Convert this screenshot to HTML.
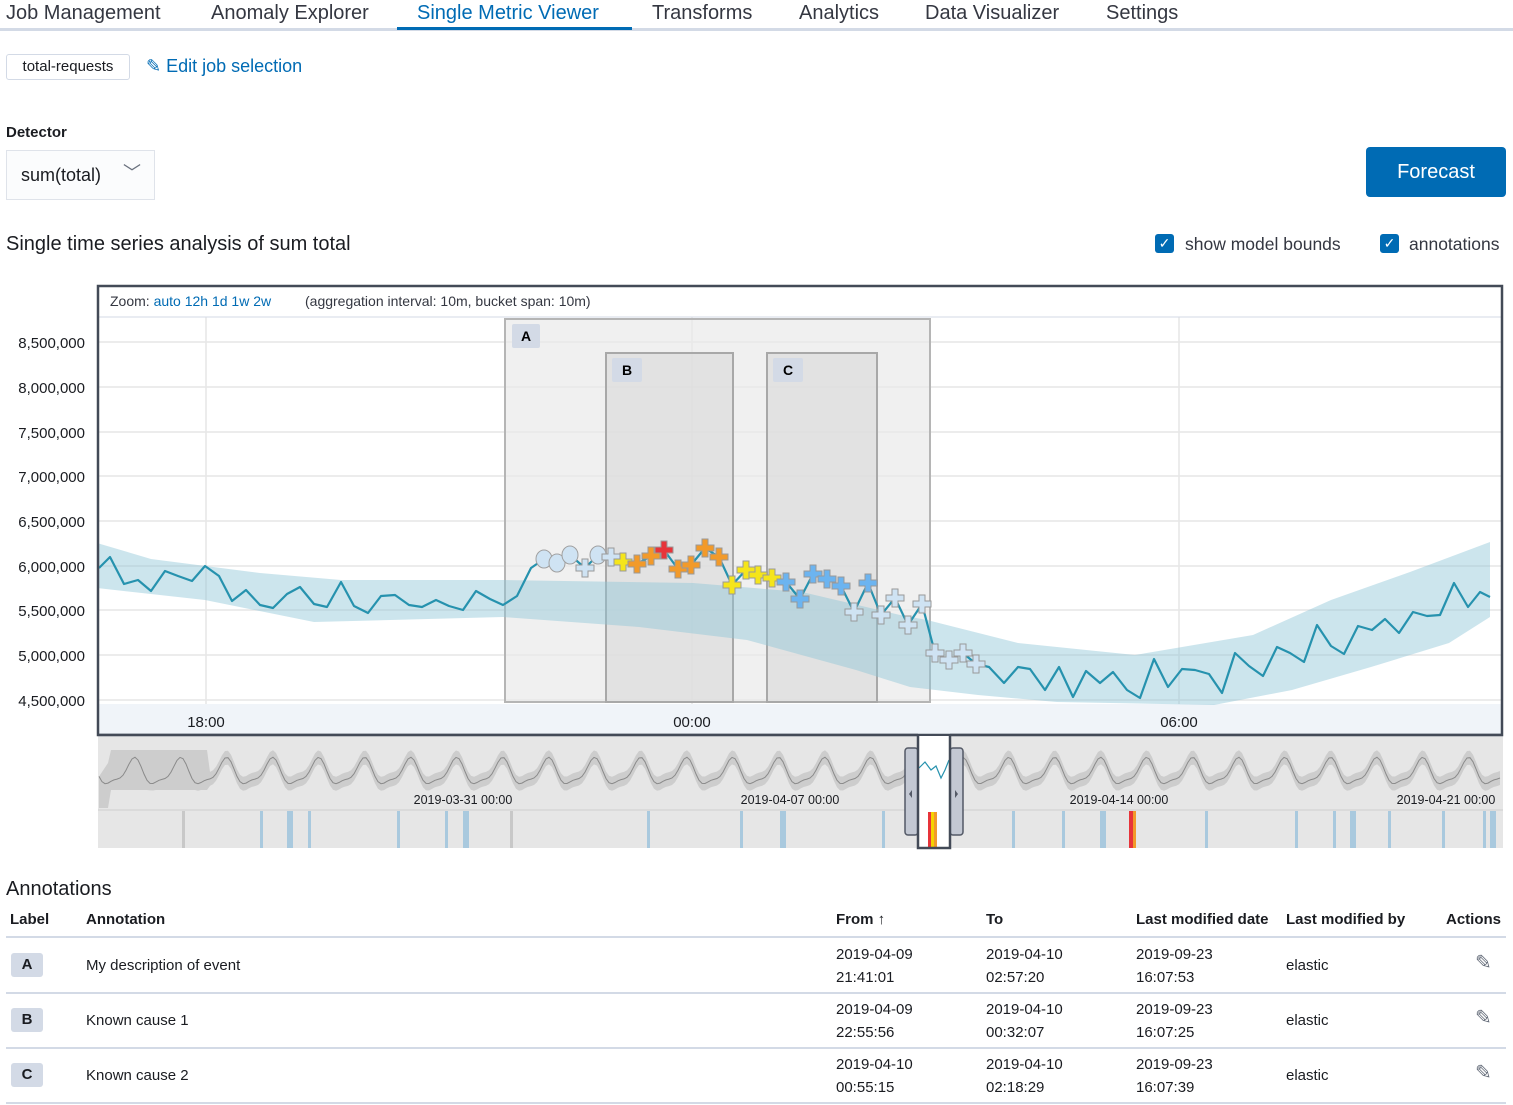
<!DOCTYPE html>
<html><head><meta charset="utf-8"><style>
body{margin:0;width:1513px;height:1105px;position:relative;font-family:"Liberation Sans",sans-serif;color:#1a1c21;background:#fff;overflow:hidden}
.a{position:absolute;white-space:nowrap}
.tab{top:2px;font-size:20px;color:#343741}
.th{top:911px;font-size:15px;font-weight:bold}
.td{font-size:15px;line-height:23px}
.lab{position:absolute;left:11px;width:32px;height:24px;background:#d3dae6;border-radius:3px;text-align:center;line-height:24px;font-weight:bold;font-size:15px}
.hl{position:absolute;left:6px;width:1500px;height:2px;background:#d3dae6}
</style></head><body>
<div class="a tab" style="left:6px">Job Management</div>
<div class="a tab" style="left:211px">Anomaly Explorer</div>
<div class="a tab" style="left:417px;color:#006bb4">Single Metric Viewer</div>
<div class="a tab" style="left:652px">Transforms</div>
<div class="a tab" style="left:799px">Analytics</div>
<div class="a tab" style="left:925px">Data Visualizer</div>
<div class="a tab" style="left:1106px">Settings</div>
<div class="a" style="left:0;top:28px;width:1513px;height:3px;background:#d3dae6"></div>
<div class="a" style="left:397px;top:27px;width:235px;height:3px;background:#006bb4"></div>

<div class="a" style="left:6px;top:54px;width:122px;height:24px;border:1px solid #d3dae6;border-radius:3px;font-size:15px;line-height:24px;text-align:center">total-requests</div>
<div class="a" style="left:146px;top:56px;font-size:18px;color:#006bb4">✎ Edit job selection</div>
<div class="a" style="left:6px;top:124px;font-size:15px;font-weight:bold">Detector</div>
<div class="a" style="left:6px;top:150px;width:147px;height:48px;background:#fbfcfd;border:1px solid #dfe3ea;font-size:18px;line-height:48px"><span style="margin-left:14px">sum(total)</span><span style="position:absolute;left:116px;top:-2px;color:#69707d">﹀</span></div>
<div class="a" style="left:1366px;top:147px;width:140px;height:50px;background:#006bb4;border-radius:4px;color:#fff;font-size:20px;line-height:50px;text-align:center">Forecast</div>
<div class="a" style="left:6px;top:233px;font-size:20px">Single time series analysis of sum total</div>
<div class="a" style="left:1155px;top:234px;width:19px;height:19px;background:#006bb4;border-radius:3px;color:#fff;font-size:14px;text-align:center;line-height:19px">✓</div>
<div class="a" style="left:1185px;top:234px;font-size:17.5px;color:#343741">show model bounds</div>
<div class="a" style="left:1380px;top:234px;width:19px;height:19px;background:#006bb4;border-radius:3px;color:#fff;font-size:14px;text-align:center;line-height:19px">✓</div>
<div class="a" style="left:1409px;top:234px;font-size:17.5px;color:#343741">annotations</div>

<svg class="a" style="left:0;top:0" width="1513" height="860">
<g font-family="Liberation Sans" font-size="15" fill="#1a1c21" text-anchor="end">
<text x="85" y="348">8,500,000</text><text x="85" y="393">8,000,000</text><text x="85" y="438">7,500,000</text><text x="85" y="482">7,000,000</text><text x="85" y="527">6,500,000</text><text x="85" y="572">6,000,000</text><text x="85" y="616">5,500,000</text><text x="85" y="661">5,000,000</text><text x="85" y="706">4,500,000</text>
</g>
<rect x="98" y="704" width="1404" height="31" fill="#f0f4f9"/>
<g stroke="#e6e6e6" stroke-width="1.5">
<line x1="99" x2="1502" y1="342" y2="342"/><line x1="99" x2="1502" y1="387" y2="387"/><line x1="99" x2="1502" y1="432" y2="432"/><line x1="99" x2="1502" y1="476" y2="476"/><line x1="99" x2="1502" y1="521" y2="521"/><line x1="99" x2="1502" y1="566" y2="566"/><line x1="99" x2="1502" y1="610" y2="610"/><line x1="99" x2="1502" y1="655" y2="655"/><line x1="99" x2="1502" y1="700" y2="700"/>
<line x1="206" x2="206" y1="317" y2="704"/><line x1="692" x2="692" y1="317" y2="704"/><line x1="1179" x2="1179" y1="317" y2="704"/>
</g>
<line x1="99" x2="1502" y1="317" y2="317" stroke="#d3dae6"/>
<text x="110" y="306" font-family="Liberation Sans" font-size="14" fill="#343741">Zoom: <tspan fill="#006bb4">auto 12h 1d 1w 2w</tspan><tspan x="305">(aggregation interval: 10m, bucket span: 10m)</tspan></text>
<g font-family="Liberation Sans" font-size="15" fill="#1a1c21" text-anchor="middle"><text x="206" y="727">18:00</text><text x="692" y="727">00:00</text><text x="1179" y="727">06:00</text></g>
<rect x="505" y="319" width="425" height="383" fill="#e9e9e9" fill-opacity="0.7" stroke="#b5b5b5" stroke-width="2"/>
<rect x="606" y="353" width="127" height="349" fill="#d9d9d9" fill-opacity="0.6" stroke="#a8a8a8" stroke-width="2"/>
<rect x="767" y="353" width="110" height="349" fill="#d9d9d9" fill-opacity="0.6" stroke="#a8a8a8" stroke-width="2"/>
<g font-family="Liberation Sans" font-size="14" font-weight="bold" text-anchor="middle"><rect x="512" y="324" width="28" height="24" fill="#d3dae6" rx="2"/><text x="526" y="341">A</text>
<rect x="612" y="358" width="30" height="24" fill="#d3dae6" rx="2"/><text x="627" y="375">B</text>
<rect x="773" y="358" width="30" height="24" fill="#d3dae6" rx="2"/><text x="788" y="375">C</text></g>
<path fill="#8ec6d6" fill-opacity="0.45" d="M97,543 L151,559 L260,573 L341,580 L503,580 L693,583 L802,592 L900,615 L927,620 L1018,643 L1135,655 L1253,635 L1331,600 L1410,572 L1490,542 L1490,617 L1449,643 L1371,667 L1292,690 L1214,705 L1057,702 L978,695 L910,687 L856,670 L747,640 L639,627 L503,617 L314,622 L205,600 L97,588 Z"/>
<polyline fill="none" stroke="#2692ae" stroke-width="2.2" stroke-linejoin="round" points="99,568 110,557 124,584 138,580 151,591 165,571 178,576 192,581 205,566 219,576 232,601 246,590 260,605 273,608 287,594 300,587 314,604 327,607 341,582 354,606 368,613 381,596 395,595 409,605 422,607 436,600 449,606 463,610 476,591 490,599 503,605 517,596 531,568 544,559 557,563 570,555 585,568 598,555 611,557 623,562 637,564 651,556 664,550 678,569 691,565 705,548 719,557 732,585 746,570 758,575 772,578 786,582 800,599 813,574 827,579 841,586 854,612 868,583 881,615 895,598 908,625 922,604 935,653 949,660 963,653 976,664 989,667 1004,683 1018,667 1030,669 1045,690 1059,667 1073,697 1086,671 1100,683 1113,672 1127,690 1140,698 1154,659 1168,687 1182,669 1195,670 1209,674 1222,693 1235,653 1249,666 1263,676 1277,647 1290,653 1304,662 1317,625 1331,646 1344,654 1358,626 1372,630 1385,619 1399,633 1413,612 1427,616 1440,615 1454,583 1468,607 1480,592 1490,597"/>
<g fill="#cfe3f3" stroke="#a0a0a0" stroke-width="1"><ellipse cx="544" cy="559" rx="8" ry="9"/><ellipse cx="557" cy="563" rx="8" ry="9"/><ellipse cx="570" cy="555" rx="8" ry="9"/><ellipse cx="598" cy="555" rx="8" ry="9"/></g>
<g id="crosses" stroke="#999" stroke-width="1"></g>
<rect x="98" y="286" width="1404" height="449" fill="none" stroke="#434a57" stroke-width="2.5"/>
<rect x="98" y="737" width="1405" height="111" fill="#e6e6e6"/>
<line x1="98" x2="1503" y1="810" y2="810" stroke="#cfcfcf"/>
<path id="cband" fill="#cdcdcd"/>
<path id="cline" fill="none" stroke="#8a8a8a" stroke-width="1"/>
<g id="swim"></g>
<g font-family="Liberation Sans" font-size="12.5" fill="#1a1c21" text-anchor="middle"><text x="463" y="804">2019-03-31 00:00</text><text x="790" y="804">2019-04-07 00:00</text><text x="1119" y="804">2019-04-14 00:00</text><text x="1446" y="804">2019-04-21 00:00</text></g>
<rect x="918" y="736" width="32" height="112" fill="#fff"/>
<path d="M919,768 L925,762 L931,770 L936,766 L941,778 L945,770 L949,760" fill="none" stroke="#2692ae" stroke-width="1.2"/>
<rect x="928" y="812" width="3" height="36" fill="#e7343a"/><rect x="931" y="812" width="3" height="36" fill="#f5d300"/><rect x="934" y="812" width="3" height="36" fill="#f29a2a"/>
<rect x="905" y="748" width="13" height="87" rx="3" fill="#c3c8d3" stroke="#535966" stroke-width="1.5"/>
<rect x="950" y="748" width="13" height="87" rx="3" fill="#c3c8d3" stroke="#535966" stroke-width="1.5"/>
<path d="M912,790 l-3,4 l3,4z M955,790 l3,4 l-3,4z" fill="#535966"/>
<path d="M918,736 V848 H950 V736" fill="none" stroke="#434a57" stroke-width="2.5"/>
<line x1="98" x2="918" y1="735" y2="735" stroke="#434a57" stroke-width="2.5"/><line x1="950" x2="1503" y1="735" y2="735" stroke="#434a57" stroke-width="2.5"/>
</svg>
<script>
(function(){
var cr=[[585,568,'l'],[611,557,'l'],[623,562,'y'],[637,564,'o'],[651,556,'o'],[664,550,'r'],[678,569,'o'],[691,565,'o'],[705,548,'o'],[719,557,'o'],[732,585,'y'],[746,570,'y'],[758,575,'y'],[772,578,'y'],[786,582,'b'],[800,599,'b'],[813,574,'b'],[827,579,'b'],[841,586,'b'],[854,612,'l'],[868,583,'b'],[881,615,'l'],[895,598,'l'],[908,625,'l'],[922,604,'l'],[935,653,'l'],[949,660,'l'],[963,653,'l'],[976,664,'l']];
var col={l:'#cfe3f3',y:'#f5e51a',o:'#f29a2a',r:'#e7343a',b:'#6cb4f0'};
var s='';cr.forEach(function(c){var x=c[0],y=c[1];s+='<path fill="'+col[c[2]]+'" d="M'+(x-3)+','+(y-9)+'h6v6h6v6h-6v6h-6v-6h-6v-6h6z"/>';});
document.getElementById('crosses').innerHTML=s;
var pts=[];
for(var x=99;x<=1500;x+=3){var p=(x-99)/46*2*Math.PI;var v=773+12*Math.sin(p)+4*Math.sin(2*p+1);var t1=v-7,b1=v+7;if(x<210){t1=Math.min(t1,750);b1=Math.max(b1,790);if(x<110){t1=760+(110-x)*1.5;b1=808;}}pts.push([x,v,t1,b1]);}
var ln='M'+pts.map(function(a){return a[0]+','+a[1].toFixed(1)}).join(' L');
var up='M'+pts.map(function(a){return a[0]+','+a[2].toFixed(1)}).join(' L')+' L'+pts.slice().reverse().map(function(a){return a[0]+','+a[3].toFixed(1)}).join(' L')+'Z';
document.getElementById('cline').setAttribute('d',ln);document.getElementById('cband').setAttribute('d',up);
var sw='';[182,260,287,308,397,445,463,510,647,740,780,882,1012,1062,1100,1205,1295,1333,1350,1388,1442,1483,1490].forEach(function(x,i){sw+='<rect x="'+x+'" y="811" width="'+(i%4==2?6:3)+'" height="37" fill="'+(x==182||x==510?'#c8c8c8':'#a9c9de')+'"/>';});
sw+='<rect x="1129" y="811" width="4" height="37" fill="#e7343a"/><rect x="1133" y="811" width="3" height="37" fill="#f29a2a"/>';
document.getElementById('swim').innerHTML=sw;
})();
</script>

<div class="a" style="left:6px;top:878px;font-size:20px">Annotations</div>
<div class="a th" style="left:10px">Label</div><div class="a th" style="left:86px">Annotation</div><div class="a th" style="left:836px">From ↑</div><div class="a th" style="left:986px">To</div><div class="a th" style="left:1136px">Last modified date</div><div class="a th" style="left:1286px">Last modified by</div><div class="a th" style="left:1446px">Actions</div>
<div class="hl" style="top:936px"></div><div class="hl" style="top:992px"></div><div class="hl" style="top:1047px"></div><div class="hl" style="top:1102px"></div>

<div class="lab" style="top:953px">A</div>
<div class="a td" style="left:86px;top:954px">My description of event</div>
<div class="a td" style="left:836px;top:943px">2019-04-09<br>21:41:01</div><div class="a td" style="left:986px;top:943px">2019-04-10<br>02:57:20</div><div class="a td" style="left:1136px;top:943px">2019-09-23<br>16:07:53</div>
<div class="a td" style="left:1286px;top:954px">elastic</div><div class="a td" style="left:1475px;top:952px;color:#69707d;font-size:20px">✎</div>

<div class="lab" style="top:1008px">B</div>
<div class="a td" style="left:86px;top:1009px">Known cause 1</div>
<div class="a td" style="left:836px;top:998px">2019-04-09<br>22:55:56</div><div class="a td" style="left:986px;top:998px">2019-04-10<br>00:32:07</div><div class="a td" style="left:1136px;top:998px">2019-09-23<br>16:07:25</div>
<div class="a td" style="left:1286px;top:1009px">elastic</div><div class="a td" style="left:1475px;top:1007px;color:#69707d;font-size:20px">✎</div>

<div class="lab" style="top:1063px">C</div>
<div class="a td" style="left:86px;top:1064px">Known cause 2</div>
<div class="a td" style="left:836px;top:1053px">2019-04-10<br>00:55:15</div><div class="a td" style="left:986px;top:1053px">2019-04-10<br>02:18:29</div><div class="a td" style="left:1136px;top:1053px">2019-09-23<br>16:07:39</div>
<div class="a td" style="left:1286px;top:1064px">elastic</div><div class="a td" style="left:1475px;top:1062px;color:#69707d;font-size:20px">✎</div>
</body></html>
